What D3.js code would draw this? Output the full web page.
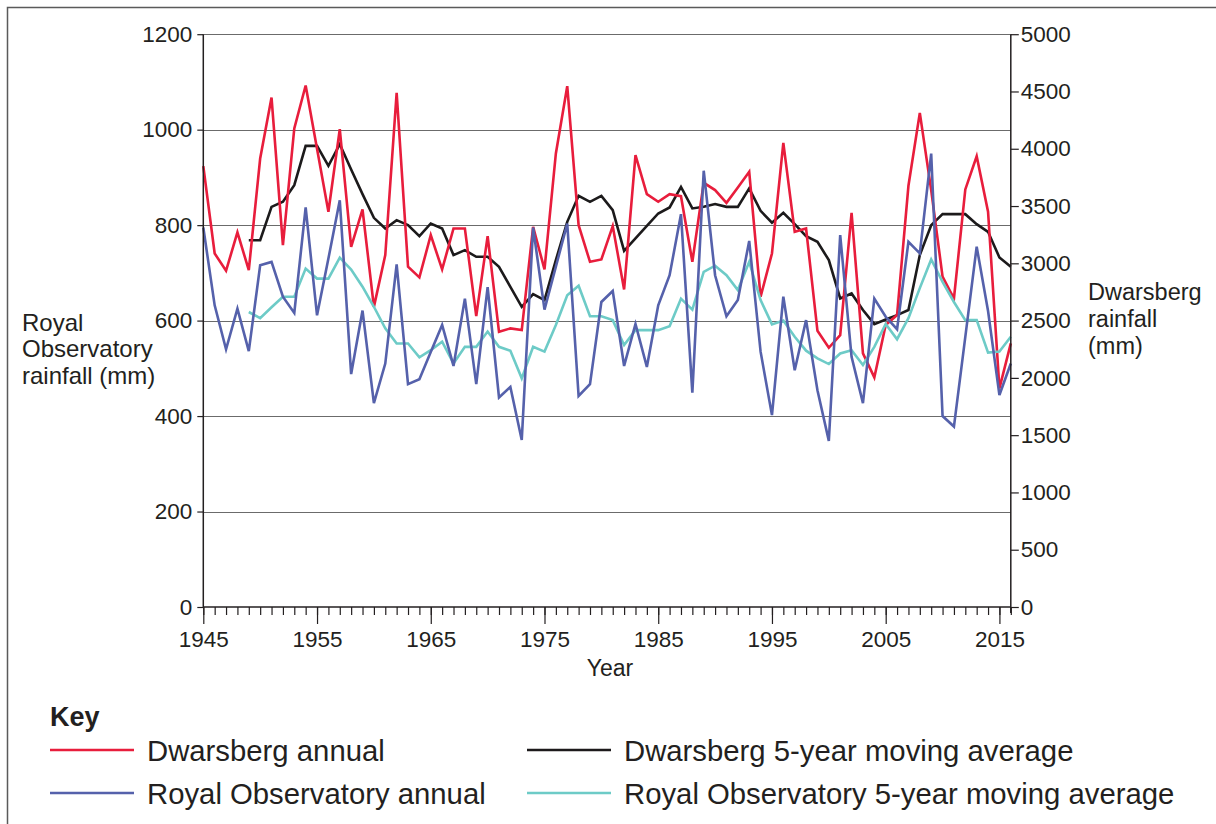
<!DOCTYPE html>
<html>
<head>
<meta charset="utf-8">
<script src="https://cdn.jsdelivr.net/npm/d3@7/dist/d3.min.js"></script>
<style>
  html, body { margin: 0; padding: 0; background: #fff; }
  svg { display: block; }
  text { font-family: "Liberation Sans", Arial, Helvetica, sans-serif; fill: #231f20; }
</style>
</head>
<body>
<svg id="chart" width="1216" height="824"></svg>
<script>
// Annual rainfall, 1945–2016
const years = d3.range(1945, 2017);
const avgYears = d3.range(1949, 2017);

// Dwarsberg annual rainfall (mm), right axis
const dwarsbergAnnual = [
  3848, 3086, 2935, 3270, 2941, 3915, 4447, 3159, 4177, 4552,
  4000, 3450, 4171, 3144, 3470, 2620, 3072, 4488, 2970, 2877,
  3246, 2947, 3304, 3304, 2539, 3237, 2402, 2432, 2417, 3319,
  2947, 3959, 4546, 3333, 3013, 3034, 3325, 2772, 3944, 3604,
  3537, 3604, 3586, 3013, 3703, 3639, 3528, 3662, 3799, 2708,
  3086, 4052, 3275, 3304, 2411, 2263, 2373, 3441, 2214, 2004,
  2461, 2548, 3677, 4313, 3639, 2883, 2693, 3645, 3935, 3450,
  1908, 2301
];

// Dwarsberg 5-year moving average (mm), 1949–2016
const dwarsbergAvg = [
  3202, 3202, 3493, 3537, 3682, 4025, 4025, 3851, 4040, 3819,
  3604, 3397, 3304, 3377, 3333, 3237, 3348, 3304, 3072, 3115,
  3057, 3057, 2970, 2795, 2620, 2731, 2679, 3028, 3362, 3589,
  3537, 3589, 3464, 3109, 3217, 3327, 3435, 3488, 3667, 3479,
  3493, 3517, 3493, 3493, 3654, 3458, 3355, 3441, 3342, 3237,
  3188, 3028, 2694, 2737, 2592, 2469, 2510, 2548, 2592, 3072,
  3333, 3429, 3429, 3429, 3342, 3275, 3051, 2970
];

// Royal Observatory annual rainfall (mm), left axis
const royalAnnual = [
  795, 632, 540, 625, 536, 716, 723, 650, 616, 837,
  611, 730, 852, 488, 621, 427, 510, 718, 467, 477,
  534, 591, 505, 646, 467, 670, 439, 461, 350, 795,
  623, 713, 803, 442, 467, 639, 662, 505, 593, 503,
  632, 695, 823, 449, 914, 695, 609, 643, 767, 535,
  402, 650, 496, 601, 454, 348, 779, 524, 427, 646,
  608, 582, 765, 741, 950, 400, 378, 566, 755, 620,
  444, 510
];

// Royal Observatory 5-year moving average (mm), 1949–2016
const royalAvg = [
  618, 605, 628, 650, 650, 709, 688, 688, 732, 707,
  671, 629, 584, 552, 552, 523, 538, 556, 510, 545,
  545, 577, 545, 537, 479, 545, 535, 591, 653, 673,
  609, 609, 601, 549, 580, 580, 580, 588, 646, 623,
  702, 715, 695, 664, 723, 643, 592, 600, 566, 537,
  521, 509, 531, 538, 507, 545, 593, 561, 605, 668,
  728, 681, 639, 601, 601, 533, 535, 566
];

const xTickYears = [1945, 1955, 1965, 1975, 1985, 1995, 2005, 2015];
const leftTicks = [0, 200, 400, 600, 800, 1000, 1200];
const rightTicks = [0, 500, 1000, 1500, 2000, 2500, 3000, 3500, 4000, 4500, 5000];

const colors = {
  dAnnual: "#e81d3c",
  dAvg: "#1c1a1b",
  rAnnual: "#5561ab",
  rAvg: "#6dcbc7"
};

const svg = d3.select("#chart");

// outer frame
svg.append("rect")
  .attr("x", 7.5).attr("y", 7.5)
  .attr("width", 1230).attr("height", 840)
  .attr("fill", "none").attr("stroke", "#5a5a5a").attr("stroke-width", 1.5);

const x = d3.scaleLinear().domain([1945, 2016]).range([203.3, 1010.8]);
const yL = d3.scaleLinear().domain([0, 1200]).range([607, 34.2]);
const yR = d3.scaleLinear().domain([0, 5000]).range([607, 34.2]);

// horizontal gridlines
svg.append("g")
  .selectAll("line")
  .data(leftTicks.filter(d => d > 0))
  .join("line")
  .attr("x1", x(1945)).attr("x2", x(2016))
  .attr("y1", d => Math.round(yL(d)) + 0.5).attr("y2", d => Math.round(yL(d)) + 0.5)
  .attr("stroke", "#6b6b6b").attr("stroke-width", 1.2);

// series lines
const lineAnnual = (yScale) => d3.line().x((d, i) => x(years[i])).y(d => yScale(d));
const lineAvg = (yScale) => d3.line().x((d, i) => x(avgYears[i])).y(d => yScale(d));

const series = [
  { data: dwarsbergAvg, gen: lineAvg(yR), color: colors.dAvg },
  { data: dwarsbergAnnual, gen: lineAnnual(yR), color: colors.dAnnual },
  { data: royalAvg, gen: lineAvg(yL), color: colors.rAvg },
  { data: royalAnnual, gen: lineAnnual(yL), color: colors.rAnnual }
];
svg.append("g").selectAll("path")
  .data(series)
  .join("path")
  .attr("d", s => s.gen(s.data))
  .attr("fill", "none")
  .attr("stroke", s => s.color)
  .attr("stroke-width", 2.6)
  .attr("stroke-linejoin", "miter");

// left axis
const gL = svg.append("g").attr("transform", `translate(${x(1945)},0)`)
  .call(d3.axisLeft(yL).tickValues(leftTicks).tickSize(6).tickPadding(5).tickFormat(d3.format("d")));
// right axis
const gR = svg.append("g").attr("transform", `translate(${x(2016)},0)`)
  .call(d3.axisRight(yR).tickValues(rightTicks).tickSize(8).tickPadding(2).tickFormat(d3.format("d")));
// bottom axis: minor yearly ticks and labelled decade ticks
const gBm = svg.append("g").attr("transform", `translate(0,${yL(0)})`)
  .call(d3.axisBottom(x).tickValues(years).tickSize(8).tickFormat(""));
const gB = svg.append("g").attr("transform", `translate(0,${yL(0)})`)
  .call(d3.axisBottom(x).tickValues(xTickYears).tickSize(17).tickFormat(d3.format("d")));

[gL, gR, gB, gBm].forEach(g => {
  g.select(".domain").attr("stroke", "#231f20").attr("stroke-width", 1.5);
  g.selectAll(".tick line").attr("stroke", "#231f20").attr("stroke-width", 1.2);
  g.selectAll(".tick text").attr("font-size", 22.5).attr("fill", "#231f20")
    .style("font-family", '"Liberation Sans", Arial, sans-serif');
});
gBm.select(".domain").attr("d", `M${x(1945)},0H${x(2016)}`);
gB.select(".domain").remove();
gB.selectAll(".tick text").attr("y", 40).attr("dy", 0);
gL.select(".domain").attr("d", `M0,${yL(1200)}V${yL(0)}`);
gR.select(".domain").attr("d", `M0,${yR(5000)}V${yR(0) + 6}`);

// axis titles
const leftTitle = ["Royal", "Observatory", "rainfall (mm)"];
svg.append("g").selectAll("text").data(leftTitle).join("text")
  .attr("x", 22).attr("y", (d, i) => 331 + i * 26.3)
  .attr("font-size", 24).text(d => d);

const rightTitle = ["Dwarsberg", "rainfall", "(mm)"];
svg.append("g").selectAll("text").data(rightTitle).join("text")
  .attr("x", 1088).attr("y", (d, i) => 300 + i * 26.8)
  .attr("font-size", 23.5).text(d => d);

svg.append("text").attr("x", 610).attr("y", 676).attr("text-anchor", "middle")
  .attr("font-size", 23).text("Year");

// key
svg.append("text").attr("x", 50).attr("y", 726).attr("font-size", 27)
  .attr("font-weight", "bold").text("Key");

const legendItems = [
  { label: "Dwarsberg annual", color: colors.dAnnual, col: 0, row: 0 },
  { label: "Dwarsberg 5-year moving average", color: colors.dAvg, col: 1, row: 0 },
  { label: "Royal Observatory annual", color: colors.rAnnual, col: 0, row: 1 },
  { label: "Royal Observatory 5-year moving average", color: colors.rAvg, col: 1, row: 1 }
];
const colX = [50, 527];
const rowY = [750, 793];
const lg = svg.append("g").selectAll("g").data(legendItems).join("g")
  .attr("transform", d => `translate(${colX[d.col]},${rowY[d.row]})`);
lg.append("line").attr("x1", 0).attr("x2", 84).attr("y1", 0).attr("y2", 0)
  .attr("stroke", d => d.color).attr("stroke-width", 2.6);
lg.append("text").attr("x", 97).attr("y", 11).attr("font-size", 29.3).text(d => d.label);
</script>
</body>
</html>
